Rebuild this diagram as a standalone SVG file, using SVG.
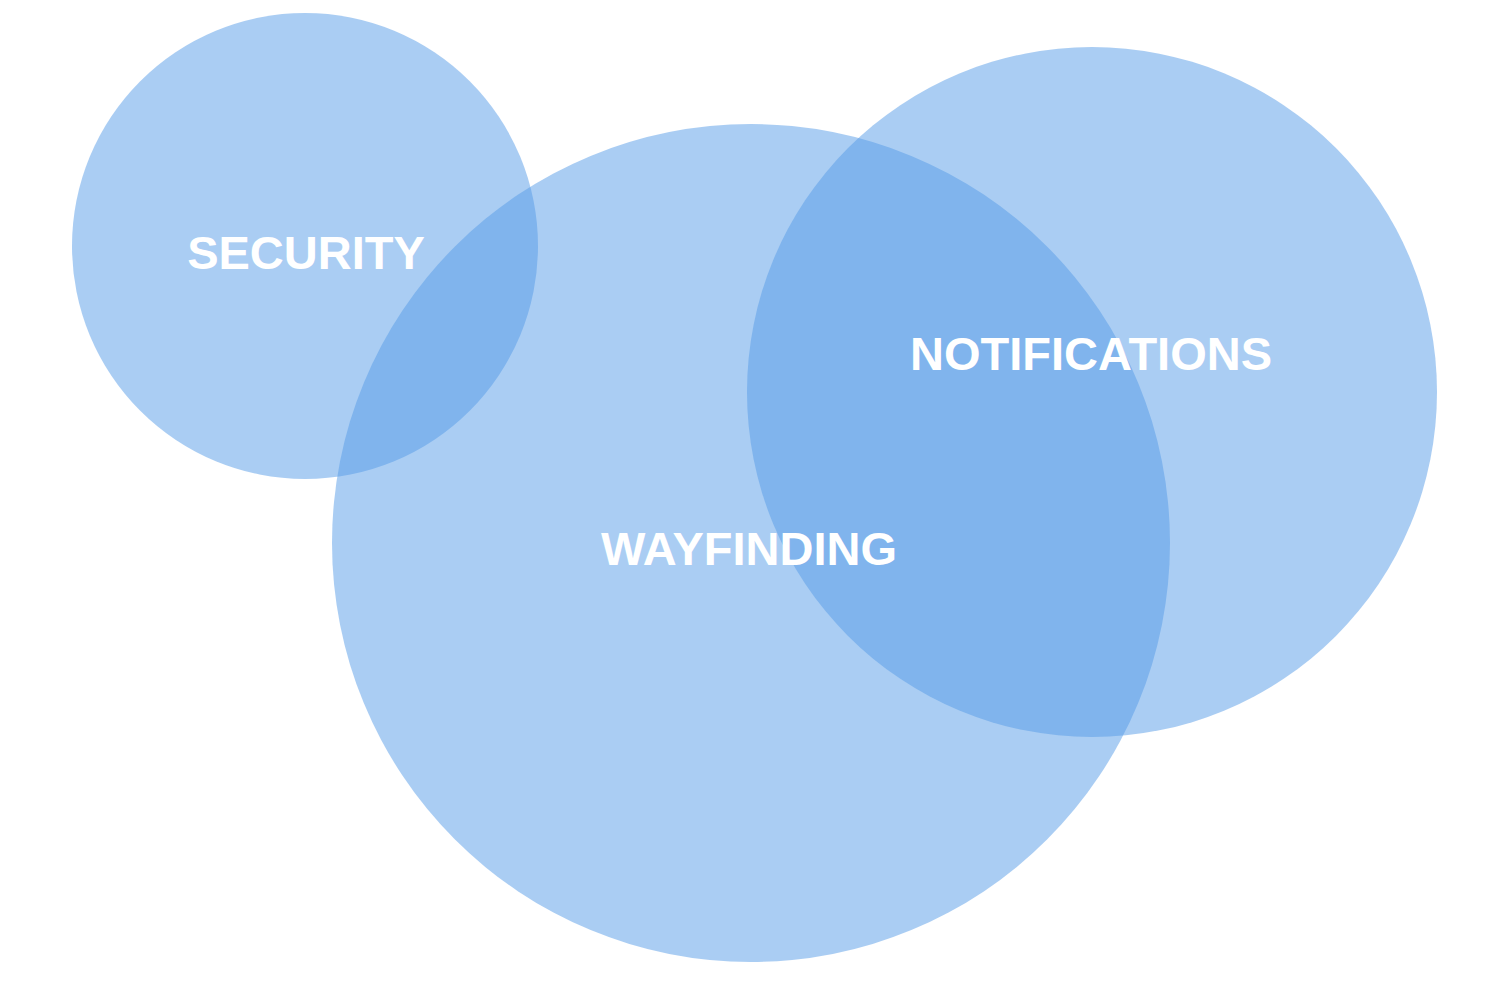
<svg xmlns="http://www.w3.org/2000/svg" width="1494" height="992" viewBox="0 0 1494 992">
<style>
.c{fill:#559be7;fill-opacity:0.5}
.t{fill:#ffffff;font-family:"Liberation Sans",Arial,sans-serif;font-weight:bold;font-size:47px;text-anchor:middle}
</style>
<rect width="1494" height="992" fill="#ffffff"/>
<g id="security"><circle class="c" cx="305" cy="246" r="233"/></g>
<g id="wayfinding"><circle class="c" cx="751" cy="543" r="419"/></g>
<g id="notifications"><circle class="c" cx="1092" cy="392" r="345"/></g>
<g id="labels">
<text class="t" x="306" y="269">SECURITY</text>
<text class="t" x="1091" y="370">NOTIFICATIONS</text>
<text class="t" x="749" y="565">WAYFINDING</text>
</g>
<g id="connectors"/>
</svg>
